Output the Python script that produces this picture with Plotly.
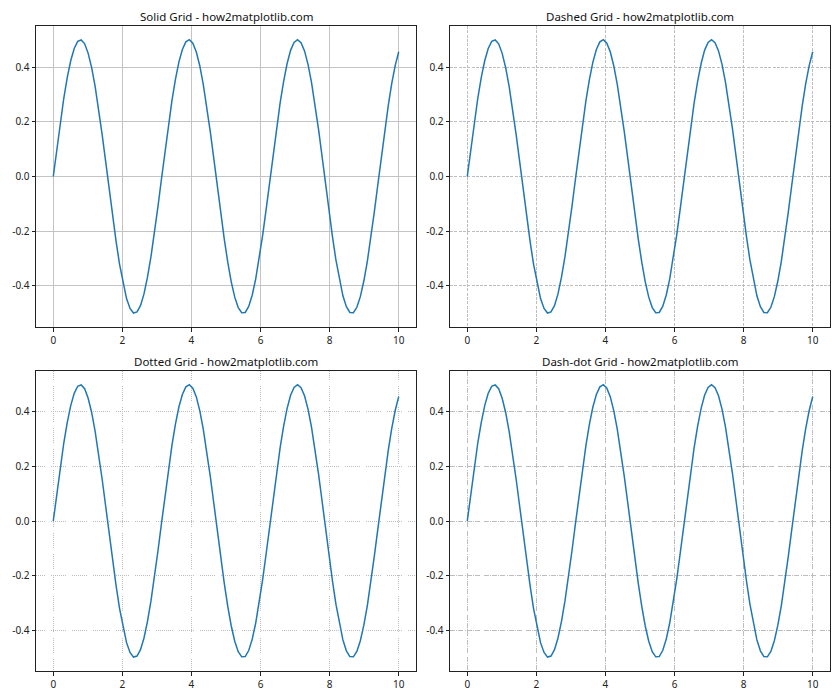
import plotly.graph_objects as go

x_vals = [0.0, 0.101, 0.202, 0.303, 0.404, 0.505, 0.606, 0.707, 0.808, 0.909,
          1.010, 1.111, 1.212, 1.313, 1.414, 1.515, 1.616, 1.717, 1.818, 1.919,
          2.020, 2.121, 2.222, 2.323, 2.424, 2.525, 2.626, 2.727, 2.828, 2.929,
          3.030, 3.131, 3.232, 3.333, 3.434, 3.535, 3.636, 3.737, 3.838, 3.939,
          4.040, 4.141, 4.242, 4.343, 4.444, 4.545, 4.646, 4.747, 4.848, 4.949,
          5.051, 5.152, 5.253, 5.354, 5.455, 5.556, 5.657, 5.758, 5.859, 5.960,
          6.061, 6.162, 6.263, 6.364, 6.465, 6.566, 6.667, 6.768, 6.869, 6.970,
          7.071, 7.172, 7.273, 7.374, 7.475, 7.576, 7.677, 7.778, 7.879, 7.980,
          8.081, 8.182, 8.283, 8.384, 8.485, 8.586, 8.687, 8.788, 8.889, 8.990,
          9.091, 9.192, 9.293, 9.394, 9.495, 9.596, 9.697, 9.798, 9.899, 10.0]

y_vals = [0.000, 0.100, 0.197, 0.285, 0.361, 0.423, 0.468, 0.494, 0.499, 0.485,
          0.450, 0.398, 0.329, 0.246, 0.154, 0.056, -0.045, -0.144, -0.237, -0.321,
          -0.391, -0.446, -0.482, -0.499, -0.495, -0.472, -0.429, -0.368, -0.293, -0.206,
          -0.110, -0.010, 0.090, 0.187, 0.276, 0.354, 0.418, 0.464, 0.492, 0.500,
          0.487, 0.455, 0.404, 0.336, 0.255, 0.164, 0.066, -0.035, -0.134, -0.228,
          -0.313, -0.385, -0.441, -0.479, -0.498, -0.497, -0.475, -0.434, -0.375, -0.302,
          -0.215, -0.120, -0.021, 0.080, 0.177, 0.268, 0.347, 0.412, 0.461, 0.490,
          0.500, 0.489, 0.459, 0.410, 0.344, 0.264, 0.174, 0.076, -0.025, -0.124,
          -0.219, -0.305, -0.378, -0.436, -0.476, -0.497, -0.498, -0.478, -0.439, -0.382,
          -0.310, -0.225, -0.130, -0.031, 0.070, 0.168, 0.259, 0.340, 0.406, 0.456]

titles = ["Solid Grid - how2matplotlib.com", "Dashed Grid - how2matplotlib.com",
          "Dotted Grid - how2matplotlib.com", "Dash-dot Grid - how2matplotlib.com"]
grid_dashes = ["solid", "3px,1.3px", "0.8px,1.3px", "5px,1.3px,0.8px,1.3px"]

x_ticks = [0, 2, 4, 6, 8, 10]
x_tick_text = ["0", "2", "4", "6", "8", "10"]
y_ticks = [-0.4, -0.2, 0.0, 0.2, 0.4]
y_tick_text = ["-0.4", "-0.2", "0.0", "0.2", "0.4"]

W, H = 840, 700
# axes boxes in pixels: (left, right, top, bottom)
boxes = [(36, 416, 26, 327), (450, 830, 26, 327),
         (36, 416, 371, 671), (450, 830, 371, 671)]

FONT = "Noto Sans"
fig = go.Figure()
layout = dict(width=W, height=H, margin=dict(l=0, r=0, t=0, b=0),
              paper_bgcolor="white", plot_bgcolor="white", showlegend=False,
              font=dict(family=FONT, size=10, color="#222222"))
annotations = []
for i, (l, r, t, b) in enumerate(boxes):
    n = "" if i == 0 else str(i + 1)
    fig.add_trace(go.Scatter(x=x_vals, y=y_vals, mode="lines",
                             line=dict(color="#1f77b4", width=1.5),
                             xaxis="x" + n, yaxis="y" + n, hoverinfo="skip"))
    gc = "#c4c4c4" if i == 0 else "#bdbdbd"
    common = dict(showgrid=True, gridcolor=gc, gridwidth=0.8, griddash=grid_dashes[i],
                  showline=True, linecolor="#222222", linewidth=1, mirror=True,
                  ticks="outside", ticklen=3.5, tickwidth=0.8, tickcolor="#222222",
                  zeroline=False, tickfont=dict(family=FONT, size=10, color="#222222"))
    layout["xaxis" + n] = dict(domain=[l / W, r / W], range=[-0.5, 10.5],
                               tickvals=x_ticks, ticktext=x_tick_text,
                               anchor="y" + n, **common)
    layout["yaxis" + n] = dict(domain=[1 - b / H, 1 - t / H], range=[-0.55, 0.55],
                               tickvals=y_ticks, ticktext=y_tick_text,
                               anchor="x" + n, **common)
    annotations.append(dict(text=titles[i], x=(l + r) / 2 / W, y=1 - (t - 10) / H,
                            xref="paper", yref="paper", showarrow=False,
                            xanchor="center", yanchor="middle",
                            font=dict(family=FONT, size=11.5, color="#111111")))
layout["annotations"] = annotations
fig.update_layout(**layout)
fig.write_html("out.html")
